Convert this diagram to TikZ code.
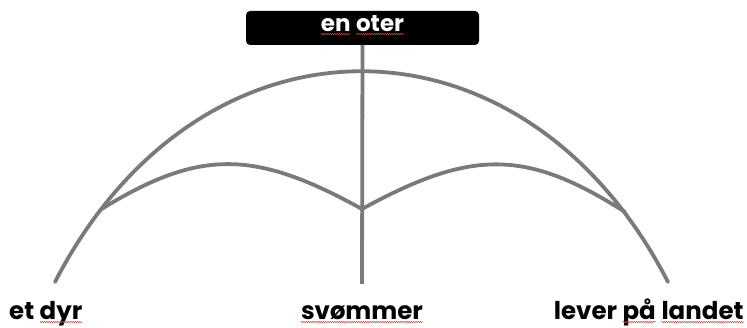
\documentclass[tikz,border=0pt]{standalone}
\usepackage{fontspec}
\setmainfont{Poppins}
\usetikzlibrary{decorations.pathmorphing}
\definecolor{linegray}{RGB}{122,122,122}
\definecolor{squigred}{RGB}{225,60,60}
\tikzset{
  squig/.style={draw=squigred, line width=0.5pt, decorate, decoration={snake, amplitude=0.7pt, segment length=2.2pt}},
  arcline/.style={draw=linegray, line width=3.8pt, line cap=round},
  label/.style={font=\fontsize{24.5}{26}\selectfont\bfseries, inner sep=0pt, text=black},
  topbox/.style={fill=black, rounded corners=4pt, minimum width=233pt, minimum height=34pt, inner sep=0pt},
  boxtext/.style={font=\fontsize{23}{25}\selectfont\bfseries, inner sep=0pt, text=white}
}
\newcommand{\sqw}[1]{\tikz[baseline=(w.base)]{\node[inner sep=0pt,outer sep=0pt] (w) {#1}; \draw[squig] ([yshift=-2pt]w.base west) -- ([yshift=-2pt]w.base east);}}
\begin{document}
\begin{tikzpicture}[x=1pt,y=-1pt]
\useasboundingbox (0,0) rectangle (747,328);
% top box
\node[topbox] (top) at (362.5,28) {};
\node[boxtext, anchor=base] (toptext) at (362.5,32) {\sqw{en} \sqw{oter}};
% junction coordinates
\coordinate (bl) at (55,282);
\coordinate (br) at (668,282);
\coordinate (jl) at (100,210);
\coordinate (jr) at (625,212);
\coordinate (jm) at (362,209);
\coordinate (vb) at (362,284);
% big arc
\draw[arcline] (bl) .. controls (200,1) and (523,1) .. (br);
% small arcs
\draw[arcline] (jl) .. controls (200,148) and (255,150) .. (jm);
\draw[arcline] (jm) .. controls (470,150) and (525,148) .. (jr);
% vertical
\draw[arcline, line cap=butt] (top.south) -- (vb);
% labels
\node[label, anchor=base west] (dyr) at (9,320) {et \sqw{dyr}};
\node[label, anchor=base] (svom) at (362,320) {\sqw{svømmer}};
\node[label, anchor=base east] (land) at (744,320) {lever \sqw{på} \sqw{landet}};
\end{tikzpicture}
\end{document}
